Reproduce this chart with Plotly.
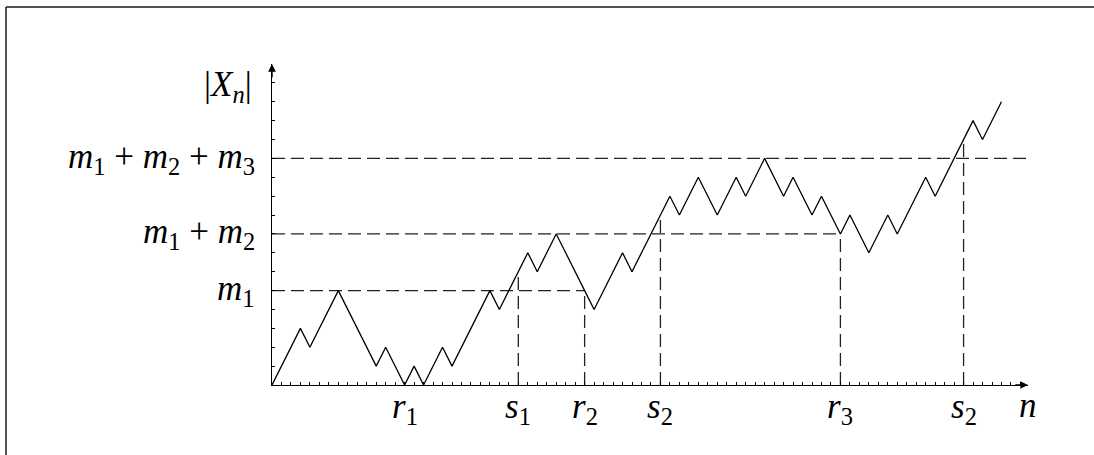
import numpy as np
import plotly.graph_objects as go

# Turning points of the reflected walk |X_n| (step index, height)
walk_n = [0, 3, 4, 7, 11, 12, 14, 15, 16, 18, 19, 23, 24, 27, 28, 30, 33, 34, 37, 38,
          42, 43, 45, 47, 49, 50, 52, 54, 55, 57, 58, 60, 61, 63, 65, 66, 69, 70, 74, 75, 77]
walk_x = [0, 3, 2, 5, 1, 2, 0, 1, 0, 2, 1, 5, 4, 7, 6, 8, 5, 4, 7, 6,
          10, 9, 11, 9, 11, 10, 12, 10, 11, 9, 10, 8, 9, 7, 9, 8, 11, 10, 14, 13, 15]

# Cumulative levels and the times where each horizontal guide stops
level_values = [5, 8, 12]
level_labels = ["<i>m</i><sub>1</sub>",
                "<i>m</i><sub>1</sub> + <i>m</i><sub>2</sub>",
                "<i>m</i><sub>1</sub> + <i>m</i><sub>2</sub> + <i>m</i><sub>3</sub>"]
level_ends = [33, 60, 79.8]

# Marked times on the n axis; vertical guides drawn for those above zero
time_values = [14, 26, 33, 41, 60, 73]
time_labels = ["<i>r</i><sub>1</sub>", "<i>s</i><sub>1</sub>", "<i>r</i><sub>2</sub>",
               "<i>s</i><sub>2</sub>", "<i>r</i><sub>3</sub>", "<i>s</i><sub>2</sub>"]

X_MAX = 79.8
Y_MAX = 17.0
FONT = "Times New Roman, Liberation Serif, DejaVu Serif, serif"
DASH = "13px,6px"
DASH_COLOR = "#222222"
LABEL_FONT = dict(family=FONT, size=35, color="black")

# layout geometry (pixels)
L, R, B, T = 272, 66, 70, 64
W, H = 1094, 455
pw, ph = W - L - R, H - T - B

# data -> paper helpers so labels outside the axis ranges stay visible
xp = lambda n: n / X_MAX
yp = lambda k: k / Y_MAX

fig = go.Figure()

# horizontal dashed guides at each level
for lv, end in zip(level_values, level_ends):
    fig.add_trace(go.Scatter(x=[0, end], y=[lv, lv], mode="lines",
                             line=dict(color=DASH_COLOR, width=1.3, dash=DASH),
                             hoverinfo="skip", showlegend=False))

# vertical dashed guides from the axis up to the walk
for t in time_values:
    h = float(np.interp(t, walk_n, walk_x))
    if h > 0:
        fig.add_trace(go.Scatter(x=[t, t], y=[0, h], mode="lines",
                                 line=dict(color=DASH_COLOR, width=1.3, dash=DASH),
                                 hoverinfo="skip", showlegend=False))

# the walk itself
fig.add_trace(go.Scatter(x=walk_n, y=walk_x, mode="lines",
                         line=dict(color="black", width=1.3),
                         hoverinfo="skip", showlegend=False))

annotations = []
for lv, lab in zip(level_values, level_labels):
    annotations.append(dict(x=xp(-1.6), y=yp(lv), xref="paper", yref="paper", text=lab,
                            showarrow=False, xanchor="right", yanchor="middle",
                            font=LABEL_FONT))
for t, lab in zip(time_values, time_labels):
    annotations.append(dict(x=xp(t), y=yp(-1.25), xref="paper", yref="paper", text=lab,
                            showarrow=False, xanchor="center", yanchor="middle",
                            font=LABEL_FONT))
annotations.append(dict(x=xp(X_MAX), y=yp(-1.1), xref="paper", yref="paper", text="<i>n</i>",
                        showarrow=False, xanchor="center", yanchor="middle",
                        font=LABEL_FONT))
annotations.append(dict(x=xp(-4.6), y=yp(15.8), xref="paper", yref="paper",
                        text="|<i>X</i><sub><i>n</i></sub>|",
                        showarrow=False, xanchor="center", yanchor="middle",
                        font=LABEL_FONT))
# arrow heads on both axes
annotations.append(dict(x=X_MAX, y=0, ax=X_MAX - 1.5, ay=0, xref="x", yref="y",
                        axref="x", ayref="y", text="", showarrow=True,
                        arrowhead=2, arrowsize=1.1, arrowwidth=1.4, arrowcolor="black",
                        standoff=0))
annotations.append(dict(x=0, y=Y_MAX, ax=0, ay=Y_MAX - 0.8, xref="x", yref="y",
                        axref="x", ayref="y", text="", showarrow=True,
                        arrowhead=2, arrowsize=1.1, arrowwidth=1.4, arrowcolor="black",
                        standoff=0))

# outer frame (top and left edges)
px = lambda X: (X - L) / pw
py = lambda Y: (H - B - Y) / ph
shapes = [
    dict(type="line", xref="paper", yref="paper", x0=px(6), x1=px(W), y0=py(7), y1=py(7),
         line=dict(color="#1a1a1a", width=1.5)),
    dict(type="line", xref="paper", yref="paper", x0=px(6), x1=px(6), y0=py(7), y1=py(H),
         line=dict(color="#1a1a1a", width=1.5)),
]

fig.update_layout(
    width=W, height=H,
    margin=dict(l=L, r=R, t=T, b=B, pad=0),
    paper_bgcolor="white", plot_bgcolor="white",
    annotations=annotations, shapes=shapes,
    showlegend=False,
)
fig.update_xaxes(range=[0, X_MAX], showgrid=False, zeroline=False,
                 showline=True, linecolor="black", linewidth=1.4,
                 ticks="inside", tickvals=list(range(1, 80)), ticklen=3,
                 tickwidth=1, tickcolor="black", showticklabels=False)
fig.update_yaxes(range=[0, Y_MAX], showgrid=False, zeroline=False,
                 showline=True, linecolor="black", linewidth=1.4,
                 ticks="inside", tickvals=list(range(1, 17)), ticklen=3,
                 tickwidth=1, tickcolor="black", showticklabels=False)

fig.write_html("out.html")
